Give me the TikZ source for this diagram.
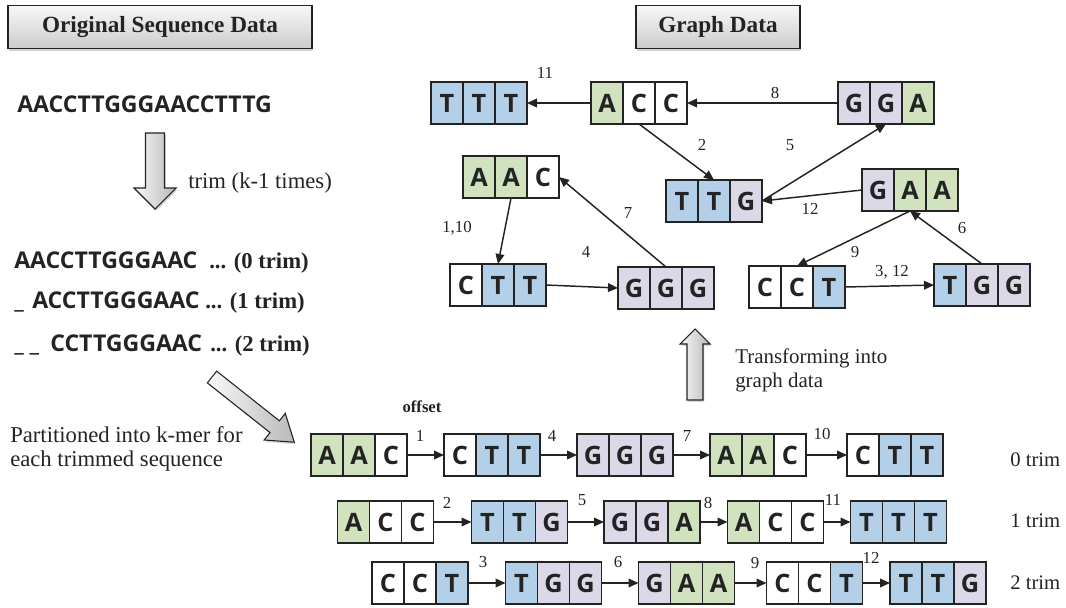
\documentclass[tikz,border=0pt]{standalone}
\usepackage{fontspec}
\setmainfont{Liberation Serif}
\newfontfamily\sq{Open Sans}
\usetikzlibrary{arrows.meta,shadows}
\definecolor{kg}{RGB}{208,226,190}
\definecolor{kb}{RGB}{180,208,232}
\definecolor{kp}{RGB}{221,216,232}
\definecolor{ink}{RGB}{35,35,35}
\newcommand\kmer[8]{%
  \node[kbox] (#1) at (#2) {};
  \node[cell,fill=#4] at ([xshift=-24pt]#1.center) {#3};
  \node[cell,fill=#6] at (#1.center) {#5};
  \node[cell,fill=#8] at ([xshift=24pt]#1.center) {#7};
}
\begin{document}
\begin{tikzpicture}[x=0.75pt,y=-0.75pt,
  cell/.style={draw=ink,line width=0.9pt,minimum width=24pt,minimum height=31.5pt,inner sep=0pt,
    font=\sq\bfseries\fontsize{19}{19}\selectfont,text=ink},
  kbox/.style={minimum width=72pt,minimum height=31.5pt,inner sep=0pt,outer sep=0pt},
  arr/.style={-{Triangle[length=7.5pt,width=6.5pt]},line width=1.1pt,draw=ink},
  lab/.style={font=\fontsize{12.6}{13}\selectfont,inner sep=0pt,text=ink},
  hdr/.style={draw=ink,line width=0.9pt,top color=gray!6,bottom color=gray!40,
    drop shadow={shadow xshift=1pt,shadow yshift=-2pt,opacity=0.35},
    font=\bfseries\fontsize{17.4}{18}\selectfont,text=ink,inner sep=0pt,minimum height=32pt},
  blk/.style={draw=ink,line width=0.8pt,left color=gray!5,right color=gray!55,
    drop shadow={shadow xshift=1pt,shadow yshift=-1.5pt,opacity=0.3}},
  seq/.style={font=\sq\bfseries\fontsize{17.3}{18}\selectfont,text=ink,inner sep=0pt,anchor=base west},
  sbold/.style={font=\bfseries\fontsize{17}{18}\selectfont,text=ink,inner sep=0pt,anchor=base west},
  txt/.style={font=\fontsize{17}{18}\selectfont,text=ink,inner sep=0pt,anchor=base west},
  trimlab/.style={font=\fontsize{15.5}{17}\selectfont,text=ink,inner sep=0pt,anchor=west}]
\useasboundingbox (0,0) rectangle (1066,607);

% headers
\node[hdr,minimum width=228pt] (h1) at (160,27) {Original Sequence Data};
\node[hdr,minimum width=123pt] (h2) at (718,27) {Graph Data};

% left column
\node[seq] (s0) at (17,112) {AACCTTGGGAACCTTTG};
\draw[blk] (145.5,133) -- (164.5,133) -- (164.5,188) -- (176,188) -- (155,209) -- (134,188) -- (145.5,188) -- cycle;
\node[txt] (trim) at (188,188) {trim (k-1 times)};

\node[seq] (l1a) at (14,268) {AACCTTGGGAAC};
\node[sbold] (l1b) at (209,268) {... (0 trim)};
\node[seq] (l2u) at (14,308) {\_};
\node[seq] (l2a) at (32,308) {ACCTTGGGAAC};
\node[sbold] (l2b) at (205,308) {... (1 trim)};
\node[seq] (l3u) at (14,351) {\_ \_};
\node[seq] (l3a) at (50,351) {CCTTGGGAAC};
\node[sbold] (l3b) at (210,351) {... (2 trim)};

\begin{scope}[shift={(212,377)},rotate=-38.4]
  \draw[blk] (0,-7.5) -- (80,-7.5) -- (80,-17) -- (105,0) -- (80,17) -- (80,7.5) -- (0,7.5) -- cycle;
\end{scope}
\node[txt] (p1) at (10,442) {Partitioned into k-mer for};
\node[txt] (p2) at (10,466) {each trimmed sequence};

% transforming arrow
\draw[blk] (687,400) -- (687,344) -- (680,344) -- (695,329) -- (710,344) -- (703,344) -- (703,400) -- cycle;
\node[txt,font=\fontsize{15.7}{17}\selectfont] (t1) at (735,363) {Transforming into};
\node[txt,font=\fontsize{15.7}{17}\selectfont] (t2) at (735,387) {graph data};

% graph
\kmer{gTTT}{479,103}{T}{kb}{T}{kb}{T}{kb}
\kmer{gACC}{639,103}{A}{kg}{C}{white}{C}{white}
\kmer{gGGA}{886,103}{G}{kp}{G}{kp}{A}{kg}
\kmer{gAAC}{511,177}{A}{kg}{A}{kg}{C}{white}
\kmer{gTTG}{714,201}{T}{kb}{T}{kb}{G}{kp}
\kmer{gGAA}{910,190}{G}{kp}{A}{kg}{A}{kg}
\kmer{gCTT}{498,285}{C}{white}{T}{kb}{T}{kb}
\kmer{gGGG}{666,288}{G}{kp}{G}{kp}{G}{kp}
\kmer{gCCT}{797,287}{C}{white}{C}{white}{T}{kb}
\kmer{gTGG}{982,285}{T}{kb}{G}{kp}{G}{kp}

\draw[arr] (gACC.west) -- (gTTT.east);
\draw[arr] (gGGA.west) -- (gACC.east);
\draw[arr] (gACC.south) -- (gTTG.north);
\draw[arr] (gTTG.east) -- (gGGA.south);
\draw[arr] (gGAA.west) -- (gTTG.east);
\draw[arr] (gAAC.south) -- (gCTT.north);
\draw[arr] (gCTT.east) -- (gGGG.west);
\draw[arr] (gGGG.north) -- (gAAC.east);
\draw[arr] (gGAA.south) -- (gCCT.north);
\draw[arr] (gTGG.north) -- (gGAA.south);
\draw[arr] (gCCT.east) -- (gTGG.west);

\node[lab] (e11) at (545,73) {11};
\node[lab] (e8) at (775,93) {8};
\node[lab] (e2) at (702,145) {2};
\node[lab] (e5) at (790,145) {5};
\node[lab] (e12) at (810,209) {12};
\node[lab] (e110) at (457,228) {1,10};
\node[lab] (e4) at (586,252) {4};
\node[lab] (e7) at (628,213) {7};
\node[lab] (e9) at (855,252) {9};
\node[lab] (e6) at (962,228) {6};
\node[lab] (e312) at (892,272) {3, 12};

% rows
\node[font=\bfseries\fontsize{12.5}{13}\selectfont,text=ink,inner sep=0pt] (off) at (422,407) {offset};

\kmer{r0a}{359,455}{A}{kg}{A}{kg}{C}{white}
\kmer{r0b}{492,455}{C}{white}{T}{kb}{T}{kb}
\kmer{r0c}{625,455}{G}{kp}{G}{kp}{G}{kp}
\kmer{r0d}{758,455}{A}{kg}{A}{kg}{C}{white}
\kmer{r0e}{895,455}{C}{white}{T}{kb}{T}{kb}
\draw[arr] (r0a.east) -- (r0b.west);
\draw[arr] (r0b.east) -- (r0c.west);
\draw[arr] (r0c.east) -- (r0d.west);
\draw[arr] (r0d.east) -- (r0e.west);
\node[lab] (o1) at (420,436) {1};
\node[lab] (o4) at (552,436) {4};
\node[lab] (o7) at (687,436) {7};
\node[lab] (o10) at (822,434) {10};
\node[trimlab] (tr0) at (1010,460) {0 trim};

\kmer{r1a}{385.5,522}{A}{kg}{C}{white}{C}{white}
\kmer{r1b}{519.5,522}{T}{kb}{T}{kb}{G}{kp}
\kmer{r1c}{652,522}{G}{kp}{G}{kp}{A}{kg}
\kmer{r1d}{775.5,522}{A}{kg}{C}{white}{C}{white}
\kmer{r1e}{898.5,522}{T}{kb}{T}{kb}{T}{kb}
\draw[arr] (r1a.east) -- (r1b.west);
\draw[arr] (r1b.east) -- (r1c.west);
\draw[arr] (r1c.east) -- (r1d.west);
\draw[arr] (r1d.east) -- (r1e.west);
\node[lab] (o2) at (447,503) {2};
\node[lab] (o5) at (582,500) {5};
\node[lab] (o8) at (708,503) {8};
\node[lab] (o11) at (833,500) {11};
\node[trimlab] (tr1) at (1010,521) {1 trim};

\kmer{r2a}{420,583}{C}{white}{C}{white}{T}{kb}
\kmer{r2b}{553.5,583}{T}{kb}{G}{kp}{G}{kp}
\kmer{r2c}{686.5,583}{G}{kp}{A}{kg}{A}{kg}
\kmer{r2d}{814.5,583}{C}{white}{C}{white}{T}{kb}
\kmer{r2e}{938,583}{T}{kb}{T}{kb}{G}{kp}
\draw[arr] (r2a.east) -- (r2b.west);
\draw[arr] (r2b.east) -- (r2c.west);
\draw[arr] (r2c.east) -- (r2d.west);
\draw[arr] (r2d.east) -- (r2e.west);
\node[lab] (o3) at (483,562) {3};
\node[lab] (o6) at (618,562) {6};
\node[lab] (o9) at (755,563) {9};
\node[lab] (o12) at (871,558) {12};
\node[trimlab] (tr2) at (1010,583) {2 trim};
\end{tikzpicture}
\end{document}
